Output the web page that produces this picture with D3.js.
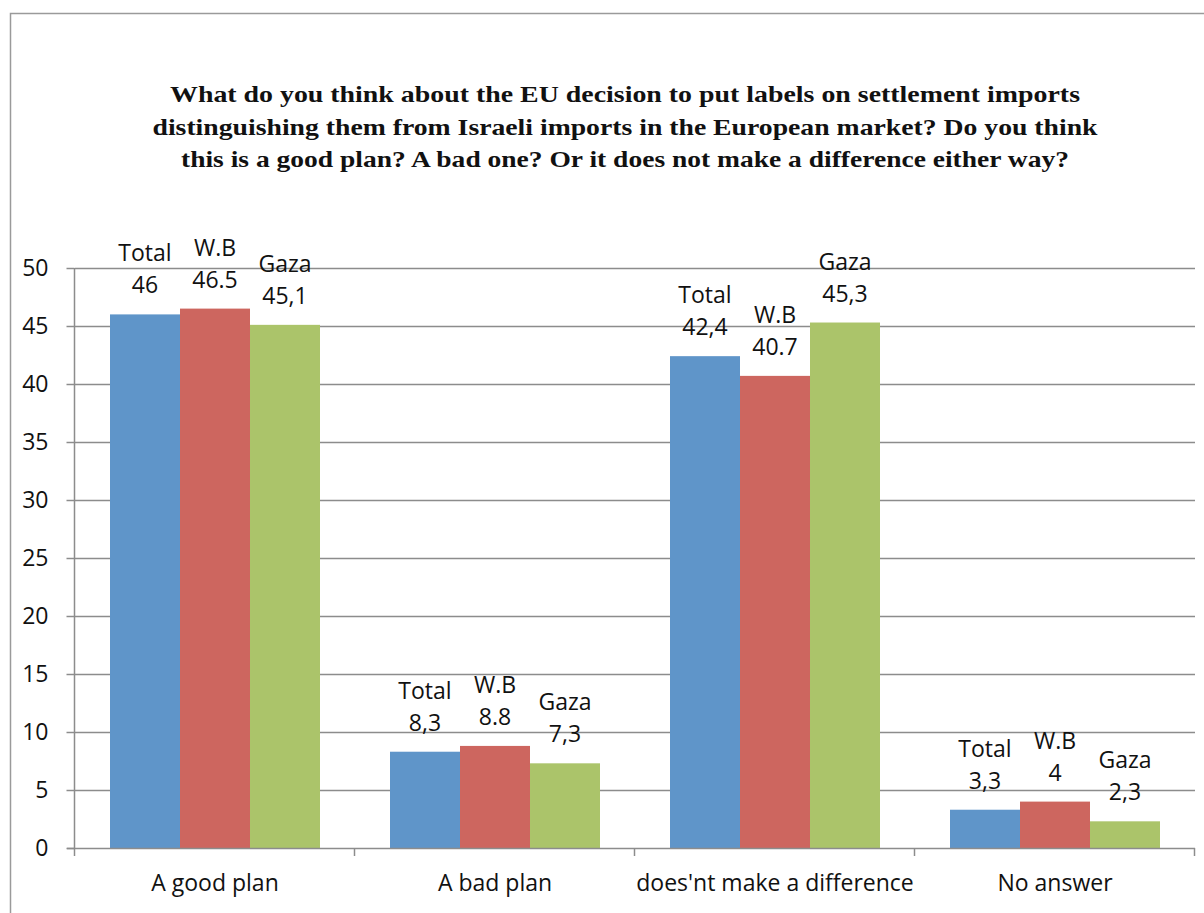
<!DOCTYPE html>
<html>
<head>
<meta charset="utf-8">
<script src="https://d3js.org/d3.v7.min.js"></script>
<style>
  html, body { margin: 0; padding: 0; background: #fff; }
  svg { display: block; }
  .tick text { font-family: "Open Sans", Lato, sans-serif; }
</style>
</head>
<body>
<div id="chart"></div>
<script>
// data
var categories = ["A good plan", "A bad plan", "does'nt make a difference", "No answer"];
var seriesNames = ["Total", "W.B", "Gaza"];
var totalValues = [46, 8.3, 42.4, 3.3];
var wbValues = [46.5, 8.8, 40.7, 4];
var gazaValues = [45.1, 7.3, 45.3, 2.3];
// labels as printed (mixed decimal marks in the original)
var totalLabels = ["46", "8,3", "42,4", "3,3"];
var wbLabels = ["46.5", "8.8", "40.7", "4"];
var gazaLabels = ["45,1", "7,3", "45,3", "2,3"];
var yTicks = [0, 5, 10, 15, 20, 25, 30, 35, 40, 45, 50];
var titleLines = [
  "What do you think about the EU decision to put labels on settlement imports",
  "distinguishing them from Israeli imports in the European market? Do you think",
  "this is a good plan? A bad one? Or it does not make a difference either way?"
];
var titleWidths = [910, 945, 888];

var colors = ["#5F95C9", "#CD665F", "#ABC46A"];
var W = 1204, H = 913;
var margin = {left: 75, right: 9, top: 268, bottom: 65};
var fs = 23;

var svg = d3.select("#chart").append("svg")
  .attr("width", W).attr("height", H);

// chart frame
svg.append("rect")
  .attr("x", 10.5).attr("y", 13.5)
  .attr("width", W).attr("height", H)
  .attr("fill", "#fff").attr("stroke", "#9a9a9a").attr("stroke-width", 1.5);

// title
svg.append("g").selectAll("text")
  .data(titleLines).enter().append("text")
  .attr("x", 625).attr("y", function(d, i) { return 102 + i * 32.5; })
  .attr("text-anchor", "middle")
  .attr("font-family", "'Liberation Serif', 'DejaVu Serif', serif")
  .attr("font-weight", "bold")
  .attr("font-size", 23)
  .attr("fill", "#111")
  .attr("textLength", function(d, i) { return titleWidths[i]; })
  .attr("lengthAdjust", "spacingAndGlyphs")
  .text(function(d) { return d; });

var x0 = d3.scaleBand().domain(categories)
  .range([margin.left, W - margin.right]).paddingInner(0).paddingOuter(0);
var x1 = d3.scaleBand().domain(seriesNames)
  .range([0, x0.bandwidth()]).paddingOuter(0.5).paddingInner(0);
var y = d3.scaleLinear().domain([0, 50]).range([H - margin.bottom, margin.top]);

// gridlines
svg.append("g").selectAll("line")
  .data(yTicks.slice(1)).enter().append("line")
  .attr("x1", margin.left).attr("x2", W - margin.right)
  .attr("y1", function(d) { return Math.round(y(d)) + 0.5; })
  .attr("y2", function(d) { return Math.round(y(d)) + 0.5; })
  .attr("stroke", "#8c8c8c").attr("stroke-width", 1.5);

// y axis
var yAxis = svg.append("g")
  .attr("transform", "translate(" + (margin.left - 0.5) + ",0)")
  .call(d3.axisLeft(y).tickValues(yTicks).tickSize(8).tickPadding(18));
yAxis.selectAll("text").attr("font-size", fs).attr("fill", "#111");
yAxis.selectAll("line, path").attr("stroke", "#8c8c8c").attr("stroke-width", 1.5);
yAxis.select(".domain").attr("d", "M0," + y(50) + "V" + y(0));

// bars
var series = [
  {name: seriesNames[0], values: totalValues, labels: totalLabels},
  {name: seriesNames[1], values: wbValues, labels: wbLabels},
  {name: seriesNames[2], values: gazaValues, labels: gazaLabels}
];

function rows(c, ci) {
  return series.map(function(s, si) { return {s: s, si: si, v: s.values[ci], l: s.labels[ci]}; });
}

var groups = svg.append("g").selectAll("g")
  .data(categories).enter().append("g")
  .attr("transform", function(d) { return "translate(" + x0(d) + ",0)"; });

groups.selectAll("rect")
  .data(rows)
  .enter().append("rect")
  .attr("x", function(d) { return x1(d.s.name); })
  .attr("width", x1.bandwidth())
  .attr("y", function(d) { return y(d.v); })
  .attr("height", function(d) { return y(0) - y(d.v); })
  .attr("fill", function(d) { return colors[d.si]; });

// data labels: series name above value
groups.selectAll("text.lbl")
  .data(rows)
  .enter().append("text")
  .attr("class", "lbl")
  .attr("text-anchor", "middle")
  .attr("font-family", "'Open Sans', Lato, sans-serif")
  .attr("font-size", fs)
  .attr("fill", "#111")
  .each(function(d) {
    var t = d3.select(this);
    var cx = x1(d.s.name) + x1.bandwidth() / 2;
    var base = y(d.v) - 21;
    t.append("tspan").attr("x", cx).attr("y", base - 32).text(d.s.name);
    t.append("tspan").attr("x", cx).attr("y", base).text(d.l);
  });

// x axis
var xAxis = svg.append("g")
  .attr("transform", "translate(0," + (y(0) + 0.5) + ")")
  .call(d3.axisBottom(x0).tickSize(0).tickPadding(26));
xAxis.selectAll("text").attr("font-size", fs).attr("fill", "#111");
xAxis.select(".domain").attr("stroke", "#8c8c8c").attr("stroke-width", 1.5)
  .attr("d", "M" + (margin.left - 8) + ",0H" + (W - margin.right));
svg.append("g").selectAll("line")
  .data(categories.concat(["end"])).enter().append("line")
  .attr("x1", function(d, i) { return margin.left - 0.5 + i * x0.bandwidth(); })
  .attr("x2", function(d, i) { return margin.left - 0.5 + i * x0.bandwidth(); })
  .attr("y1", y(0)).attr("y2", y(0) + 8)
  .attr("stroke", "#8c8c8c").attr("stroke-width", 1.5);
</script>
</body>
</html>
